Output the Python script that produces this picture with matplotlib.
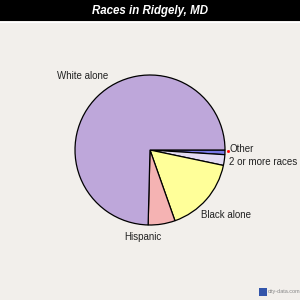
import matplotlib
matplotlib.use("Agg")
import matplotlib.pyplot as plt
from matplotlib.patches import Rectangle

title = "Races in Ridgely, MD"
categories = ["Other", "2 or more races", "Black alone", "Hispanic", "White alone"]
values = [1.0, 2.3, 16.3, 5.8, 74.6]
colors = ["#7878E6", "#E2DAF2", "#FFFF99", "#F5B3B3", "#BEA7DA"]

plt.rcParams['font.family'] = ['Liberation Sans', 'DejaVu Sans']

fig = plt.figure(figsize=(3, 3), dpi=100)
fig.patch.set_facecolor("#F2EFEB")
ax = fig.add_axes([0, 0, 1, 1])
ax.set_xlim(0, 300)
ax.set_ylim(0, 300)
ax.set_aspect('equal')
ax.axis('off')

# title bar
ax.add_patch(Rectangle((0, 279), 300, 21, facecolor="black", edgecolor="none"))
ax.plot([0, 300], [278.5, 278.5], color="white", lw=0.8)
ax.text(150, 289, title, color="white", fontsize=8.3, fontweight="bold",
        fontstyle="italic", ha="center", va="center")

ax.pie(values, colors=colors, startangle=0, counterclock=False,
       center=(150, 150), radius=75, frame=True,
       wedgeprops=dict(edgecolor="black", linewidth=0.9))
ax.set_xlim(0, 300)
ax.set_ylim(0, 300)
ax.axis('off')

label_pos = {
    "White alone": (57, 224, "left"),
    "Other": (229, 151, "left"),
    "2 or more races": (229, 138, "left"),
    "Black alone": (201, 85, "left"),
    "Hispanic": (143, 63, "center"),
}
for name in categories:
    x, y, ha = label_pos[name]
    ax.text(x, y, name, fontsize=7, color="#222222", ha=ha, va="center")

ax.plot([227.5], [149], marker='s', ms=1, color="red")

# watermark
ax.add_patch(Rectangle((259, 4), 8, 8, facecolor="#3355AA", edgecolor="none"))
ax.text(268, 8, "city-data.com", fontsize=4, color="#888888", ha="left", va="center")

fig.savefig("out.png", dpi=100, facecolor=fig.get_facecolor())
